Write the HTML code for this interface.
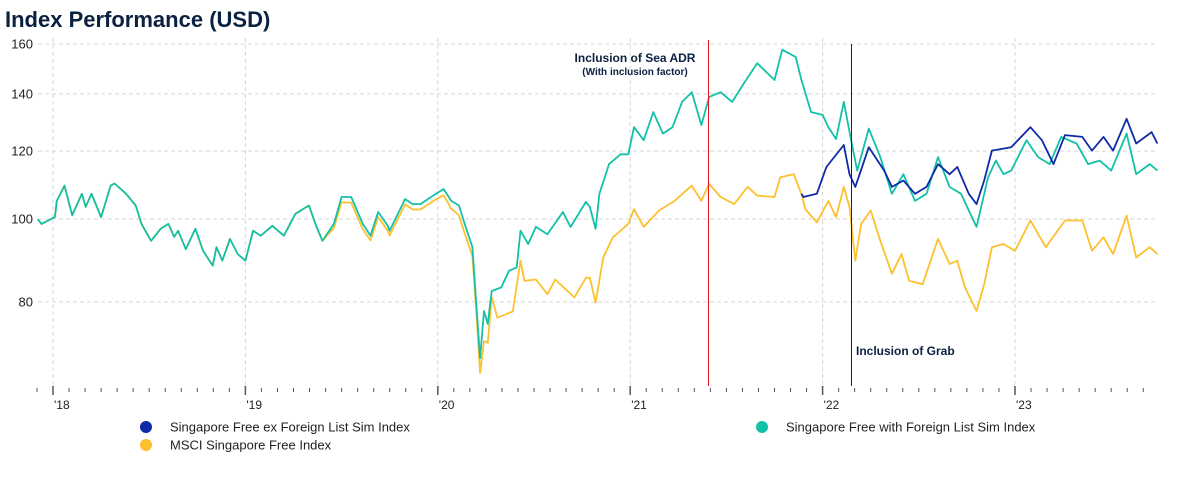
<!DOCTYPE html>
<html><head><meta charset="utf-8"><style>
body{margin:0;background:#fff;font-family:"Liberation Sans",Arial,sans-serif;}
#wrap{position:relative;width:1187px;height:490px;overflow:hidden;}
</style></head><body>
<div id="wrap">
<svg id="chart" width="1187" height="490">
<text x="5" y="27" font-size="22" font-weight="bold" fill="#0b2140">Index Performance (USD)</text>
<g id="grid"></g>
<g id="axes"></g>
<g id="series"></g>
<line x1="708.5" y1="40" x2="708.5" y2="386" stroke="#e8141b" stroke-width="1"/>
<line x1="851.5" y1="44" x2="851.5" y2="386" stroke="#222" stroke-width="1"/>
<text x="635" y="62" font-size="12" font-weight="bold" fill="#0b2140" text-anchor="middle">Inclusion of Sea ADR</text>
<text x="635" y="75" font-size="10" font-weight="bold" fill="#0b2140" text-anchor="middle">(With inclusion factor)</text>
<text x="856" y="355" font-size="12" font-weight="bold" fill="#0b2140">Inclusion of Grab</text>
<g>
<circle cx="146" cy="427" r="6" fill="#0f2aa8"/>
<text x="170" y="431.5" font-size="13" fill="#222">Singapore Free ex Foreign List Sim Index</text>
<circle cx="146" cy="445" r="6" fill="#fdc02f"/>
<text x="170" y="449.5" font-size="13" fill="#222">MSCI Singapore Free Index</text>
<circle cx="762" cy="427" r="6" fill="#13c1a9"/>
<text x="786" y="431.5" font-size="13" fill="#222">Singapore Free with Foreign List Sim Index</text>
</g>
</svg>
</div>
<script>
const yTicks=[80,100,120,140,160];
const yearLabels=["'18","'19","'20","'21","'22","'23"];
const years=[2018,2019,2020,2021,2022,2023];
const greenT=[2017.92,2017.94,2018.01,2018.02,2018.06,2018.10,2018.15,2018.17,2018.20,2018.25,2018.30,2018.32,2018.38,2018.43,2018.46,2018.51,2018.56,2018.60,2018.63,2018.65,2018.69,2018.74,2018.78,2018.83,2018.85,2018.88,2018.92,2018.96,2019.00,2019.04,2019.08,2019.14,2019.20,2019.26,2019.33,2019.37,2019.40,2019.46,2019.50,2019.55,2019.61,2019.65,2019.69,2019.74,2019.75,2019.83,2019.87,2019.91,2019.99,2020.03,2020.07,2020.11,2020.14,2020.18,2020.20,2020.22,2020.24,2020.26,2020.28,2020.33,2020.37,2020.41,2020.43,2020.47,2020.51,2020.57,2020.65,2020.69,2020.77,2020.79,2020.82,2020.84,2020.89,2020.95,2020.99,2021.02,2021.07,2021.12,2021.17,2021.22,2021.27,2021.32,2021.37,2021.41,2021.47,2021.53,2021.59,2021.66,2021.75,2021.79,2021.86,2021.89,2021.94,2022.00,2022.03,2022.07,2022.11,2022.15,2022.18,2022.24,2022.30,2022.36,2022.42,2022.48,2022.54,2022.60,2022.66,2022.72,2022.76,2022.80,2022.86,2022.90,2022.94,2022.98,2023.06,2023.12,2023.18,2023.24,2023.32,2023.38,2023.44,2023.50,2023.58,2023.63,2023.70,2023.74];
const greenV=[100,98.7,100.5,105,109.4,101,107,103.3,107,100.5,109.4,110,107,103.7,98.7,94.3,97.4,98.7,95.3,96.9,92.2,97.4,91.8,88.2,92.7,89.4,94.8,91,89.4,96.9,95.6,98.2,95.6,101.4,103.7,97.9,94.3,98.7,106.1,106.1,98.7,95.6,101.9,98.2,96.9,105.5,104.1,104.1,107,108.4,105,103.7,98.7,92.7,79.6,68.8,78.1,75.4,82.4,83.2,87,87.8,96.9,93.5,97.9,96,101.9,97.9,104.7,103.3,97.4,107,115.9,119,119,128,123.6,133.3,125.8,128,137,140.6,128.7,138.8,140.6,137,143.9,152,145.3,157.6,154.6,145.3,133.3,132.3,128,124,137,123,113.9,127.5,118.1,107,112.8,105,107,118.1,109,107,102.3,97.9,111.9,117,112.8,113.9,123.6,118.1,115.9,124.7,122.5,115.9,117,113.9,125.8,112.8,115.9,113.9];
const msciT=[2017.92,2017.94,2018.01,2018.02,2018.06,2018.10,2018.15,2018.17,2018.20,2018.25,2018.30,2018.32,2018.38,2018.43,2018.46,2018.51,2018.56,2018.60,2018.63,2018.65,2018.69,2018.74,2018.78,2018.83,2018.85,2018.88,2018.92,2018.96,2019.00,2019.04,2019.08,2019.14,2019.20,2019.26,2019.33,2019.37,2019.40,2019.46,2019.50,2019.55,2019.61,2019.65,2019.69,2019.74,2019.75,2019.83,2019.87,2019.91,2019.99,2020.03,2020.07,2020.11,2020.14,2020.18,2020.20,2020.22,2020.24,2020.26,2020.28,2020.31,2020.39,2020.43,2020.45,2020.51,2020.57,2020.61,2020.71,2020.77,2020.79,2020.82,2020.86,2020.91,2020.99,2021.02,2021.07,2021.15,2021.23,2021.32,2021.37,2021.41,2021.47,2021.54,2021.61,2021.66,2021.75,2021.78,2021.85,2021.89,2021.91,2021.97,2022.03,2022.07,2022.11,2022.14,2022.17,2022.20,2022.25,2022.30,2022.36,2022.41,2022.45,2022.52,2022.60,2022.66,2022.70,2022.74,2022.80,2022.84,2022.88,2022.94,2023.00,2023.08,2023.16,2023.26,2023.35,2023.40,2023.46,2023.51,2023.58,2023.63,2023.70,2023.74];
const msciV=[100,98.7,100.5,105,109.4,101,107,103.3,107,100.5,109.4,110,107,103.7,98.7,94.3,97.4,98.7,95.3,96.9,92.2,97.4,91.8,88.2,92.7,89.4,94.8,91,89.4,96.9,95.6,98.2,95.6,101.4,103.7,97.9,94.3,97.6,104.6,104.5,97.3,94.4,100.5,96.9,95.7,104,102.6,102.6,105.4,106.6,102.8,101,96.2,90.5,78,66.1,72,71.7,81,76.7,78,89.4,84.7,85,81.7,85,81,85.4,85.4,79.9,90.2,95.2,98.7,102.7,97.9,102.3,105,109.4,105,109.9,106.1,104.1,109,106.5,106.1,111.9,112.8,107,102.7,99.1,105,100.5,109,103.3,89.4,98.7,102.3,94.3,86.3,91,84.7,83.9,94.8,88.6,89.4,83.2,78.1,83.9,92.7,93.5,91.8,99.6,92.7,99.6,99.6,91.8,95.2,91,100.9,90.2,92.7,91];
const exT=[2021.89,2021.90,2021.97,2022.02,2022.11,2022.14,2022.17,2022.24,2022.32,2022.36,2022.42,2022.48,2022.54,2022.60,2022.66,2022.70,2022.76,2022.80,2022.84,2022.88,2022.98,2023.08,2023.14,2023.20,2023.26,2023.35,2023.40,2023.46,2023.51,2023.58,2023.63,2023.71,2023.74];
const exV=[107,106.1,107,115,122,112.8,109,121.3,113.9,109,110.9,107,109,115.9,112.8,115,107,104.1,110.9,120.2,121.3,128,123.6,115.9,125.3,124.7,120.2,124.7,120.2,130.9,122.5,126.3,122.5];

const NS='http://www.w3.org/2000/svg';
const X0=53,PX_YR=192.4,L=38,R=1157;
function xs(t){return X0+(t-2018)*PX_YR;}
function ys(v){return 219-372*Math.log(v/100);}
function mk(tag,attrs,parent){const e=document.createElementNS(NS,tag);for(const k in attrs)e.setAttribute(k,attrs[k]);parent.appendChild(e);return e;}
const grid=document.getElementById('grid'),axes=document.getElementById('axes'),ser=document.getElementById('series');
yTicks.forEach(v=>{
  const l=mk('line',{x1:L,x2:R,y1:ys(v),y2:ys(v),stroke:'#d6d6d6','stroke-dasharray':'4,3'},grid);
  
  
  const t=mk('text',{x:33,y:ys(v)+4.5,'font-size':13,fill:'#222','text-anchor':'end'},axes);
  t.textContent=v;
  
  
});
years.forEach((y,i)=>{
  const l=mk('line',{x1:xs(y),x2:xs(y),y1:38,y2:386,stroke:'#d6d6d6','stroke-dasharray':'4,3'},grid);
  
  
  const t=mk('text',{x:xs(y)+1,y:409,'font-size':12,fill:'#222'},axes);
  t.textContent=yearLabels[i];
  
  
});
for(let k=0;k<=70;k++){
  const t=2017+11/12+k/12; if(xs(t)>R+2)break;
  const yr=Math.abs(t-Math.round(t))<0.01;
  const l=mk('line',{x1:xs(t),x2:xs(t),y1:yr?386:388,y2:yr?395:392,stroke:'#555','stroke-width':yr?1.5:1},axes);
  
  
}
function path(T,V,color,name){
  let d='';T.forEach((t,i)=>{d+=(i?'L':'M')+xs(t).toFixed(1)+','+ys(V[i]).toFixed(1);});
  const p=mk('path',{d:d,fill:'none',stroke:color,'stroke-width':1.8,'stroke-linejoin':'round'},ser);
  
  
}
path(msciT,msciV,'#fdc02f','line-msci');
path(greenT,greenV,'#13c1a9','line-with-foreign');
path(exT,exV,'#0f2aa8','line-ex-foreign');
</script>
</body></html>
